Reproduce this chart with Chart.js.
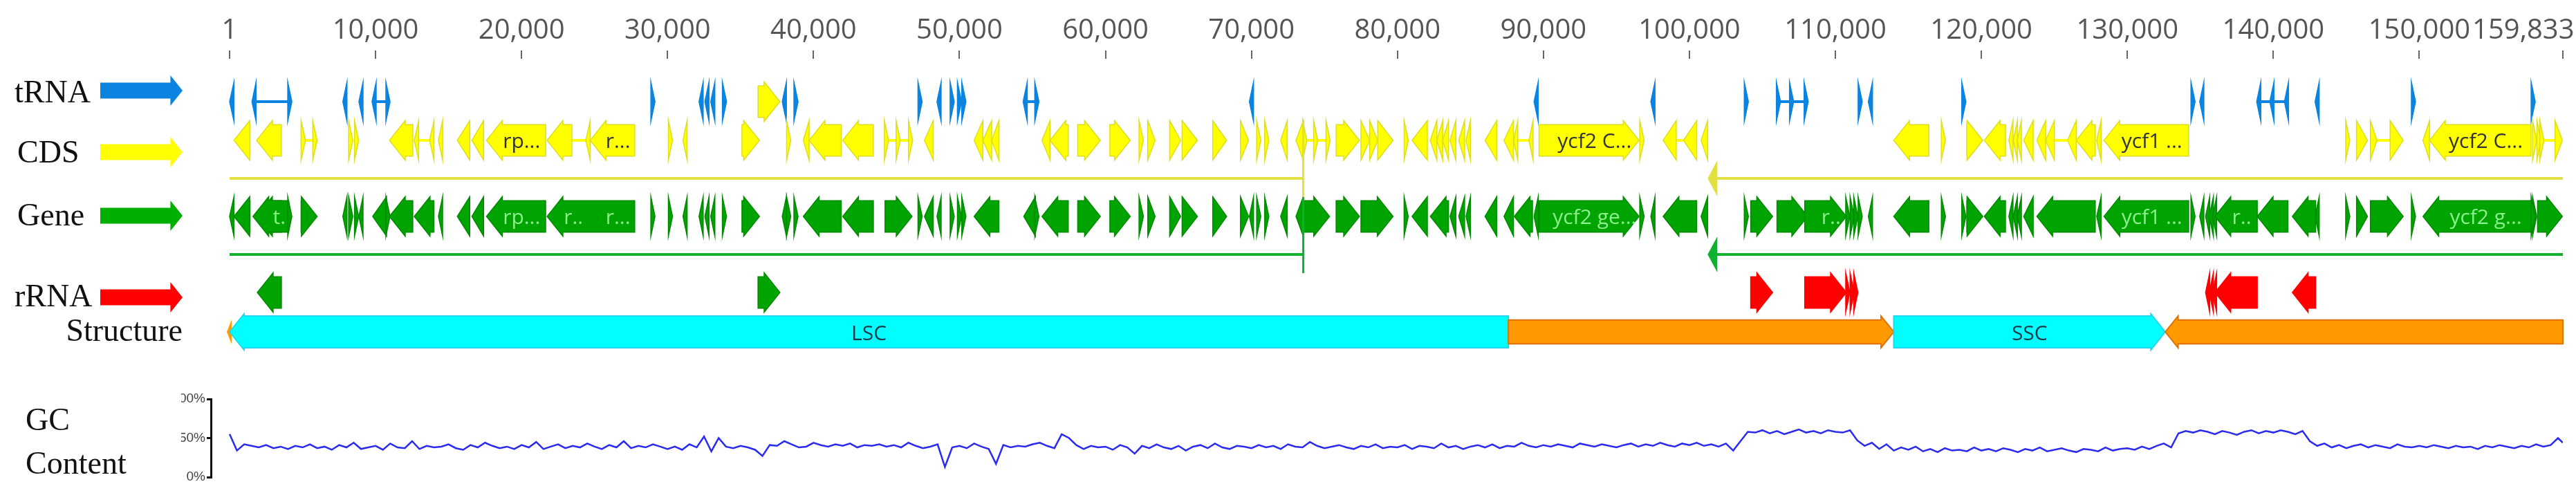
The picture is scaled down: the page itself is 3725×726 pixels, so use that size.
<!DOCTYPE html>
<html lang="en">
<head>
<meta charset="UTF-8">
<title>Genome map</title>
<script src="https://cdn.jsdelivr.net/npm/chart.js"></script>
<style>
  body { margin: 0; background: #fff; width: 3725px; height: 726px; position: relative; overflow: hidden; }
  canvas { position: absolute; left: 0; }
  #mapChart { top: 0; }
  #gcChart { top: 540px; }
  .lbl { position: absolute; font-family: "Liberation Serif", "DejaVu Serif", serif; font-size: 46px; line-height: 50px; height: 50px; color: #111; white-space: nowrap; }
</style>
</head>
<body>
<canvas id="mapChart" width="3725" height="540"></canvas>
<canvas id="gcChart" width="3725" height="186"></canvas>
<div class="lbl" style="left:21px;top:108px">tRNA</div>
<div class="lbl" style="left:25px;top:195px">CDS</div>
<div class="lbl" style="left:25px;top:286px">Gene</div>
<div class="lbl" style="left:21px;top:403px">rRNA</div>
<div class="lbl" style="right:3461px;top:453px">Structure</div>
<div class="lbl" style="left:37px;top:582px">GC</div>
<div class="lbl" style="left:37px;top:645px">Content</div>
<script>
// genome length and axis ticks
const genomeLength = 159833;
const tickValues = [1, 10000, 20000, 30000, 40000, 50000, 60000, 70000, 80000, 90000,
  100000, 110000, 120000, 130000, 140000, 150000, 159833];

// [start, end, strand, label]
const trna = [[1,300,-1],[1600,1750,-1],[4050,4200,1],[7800,8000,-1],[8900,9100,-1],[9800,10000,-1],
  [10750,10950,1],[28900,29100,1],[32200,32400,-1],[32600,32800,-1],[33000,33200,-1],[33800,34000,1],
  [37900,38100,-1],[38700,38900,1],[47200,47400,1],[48500,48700,-1],[49400,49600,1],[49900,50100,1],
  [50200,50400,1],[54400,54600,-1],[55200,55400,1],[69900,70100,-1],[89400,89600,-1],[97400,97600,-1],
  [103800,104000,1],[106000,106200,1],[106900,107100,1],[107900,108100,1],[111600,111800,1],
  [112300,112500,-1],[118700,118900,1],[134400,134600,1],[135000,135200,-1],[138900,139100,-1],
  [139800,140000,-1],[140800,141000,-1],[142900,143100,-1],[149500,149700,1],[157700,157900,1]];
const trnaIntrons = [[1750,4050],[10000,10750],[54600,55200],[106200,106900],[107100,107900],
  [139100,139800],[140000,140800]];

const cds = [[300,1400,-1],[1850,3550,-1],[4900,5200,1],[5700,6000,1],[8200,8400,1],[8600,8800,1],
  [10950,12550,-1],[12650,12950,-1],[13700,14000,-1],[14350,14550,-1],[15600,16450,-1],[16600,17400,-1],
  [17600,21650,-1,'rp...'],[21750,23450,-1],[24400,24700,-1],[24700,27750,-1,'r...'],[30100,30300,1],
  [31100,31300,-1],[35100,36300,1],[38200,38400,1],[39300,39700,-1],[39700,41900,-1],[42000,44100,-1],
  [44900,45100,1],[45700,45900,1],[46550,46750,1],[47600,48200,-1],[51000,51600,-1],[51600,52200,-1],
  [52200,52700,-1],[55650,56200,-1],[56200,57450,-1],[58100,59650,1],[60300,61700,1],[62300,62600,1],
  [62900,63400,1],[64400,65150,1],[65250,66300,1],[67350,68300,1],[69250,69800,1],[70400,70600,1],
  [70950,71150,1],[72000,72450,-1],[73050,73550,-1],[73550,73750,1],[74300,74500,1],[75150,75350,1],
  [75800,77400,1],[77500,78100,1],[78100,78650,1],[78650,79700,1],[80500,80700,1],[81000,82050,-1],
  [82250,82700,-1],[82700,83100,-1],[83100,83500,-1],[83600,84000,-1],[84200,84600,-1],[84700,85000,-1],
  [86000,86800,-1],[87300,87950,-1],[88000,88200,-1],[89050,89250,-1],[89700,96550,1,'ycf2 C...'],
  [96600,96900,1],[98200,99100,-1],[99600,100500,-1],[100800,101250,-1],[114000,116400,-1],
  [117300,117500,1],[119000,120100,1],[120200,121650,-1],[121900,122150,-1],[122200,122450,-1],
  [122500,122700,-1],[122900,123550,-1],[123800,124400,-1],[124400,125000,-1],[125900,126500,-1],
  [126500,127800,-1],[127900,128200,-1],[128400,134200,-1,'ycf1 ...'],[145000,145200,1],[145700,146450,1],
  [146650,147100,1],[148000,148900,1],[150250,150700,-1],[150700,157650,-1,'ycf2 C...'],[157800,158000,1],
  [158100,158300,1],[158300,158500,1],[159300,159800,1]];
const cdsIntrons = [[5200,5700],[12950,13700],[23450,24400],[45100,45700],[45900,46550],[73750,74300],
  [74500,75150],[88200,89050],[99100,99600],[125000,125900],[147100,148000],[158500,159300]];
const cdsInTrnaRow = [[36200,37700,1]];

const rrna = [[104200,105700,1],[107900,110750,1],[110750,110950,1],[111050,111250,1],[111300,111500,1],
  [135400,135600,-1],[135650,135850,-1],[135900,136050,-1],[136000,138900,-1],[141300,142900,-1]];
const genesInRrnaRow = [[1900,3550,-1],[36200,37700,1]];
const geneLabels = [[1850,4200,'t.'],[17600,21650,'rp...'],[21750,24600,'r..'],[24700,27750,'r...'],
  [89700,96550,'ycf2 ge...'],[107900,110750,'r..'],[128400,134200,'ycf1 ...'],[136000,138900,'r..'],
  [150700,157650,'ycf2 g...']];
// trans-spliced gene (rps12) segments
const transSplice = [[1,73550],[101250,159833]];

// structure: [start, end, strand, name, kind]
const regions = [[1,87600,-1,'LSC','sc'],[87600,114000,1,'','ir'],[114000,132600,1,'SSC','sc'],
  [132600,159833,-1,'','ir']];

// GC content, one value per 500 bp window
const gcStep = 500;
const gcContent = [
  55,34,42,40,38,41,37,39,36,40,38,42,37,39,35,41,38,44,36,38,
  40,35,43,38,37,46,36,40,38,39,42,37,35,41,38,44,40,37,39,36,
  41,38,45,36,39,42,37,40,38,43,39,36,41,38,46,37,40,38,42,39,
  36,39,35,42,38,52,33,50,39,37,40,38,35,27,41,40,46,42,38,39,
  44,41,39,42,40,43,38,41,40,42,39,41,38,44,40,37,39,42,13,38,
  40,37,43,39,36,17,41,38,40,39,42,44,40,37,55,50,41,36,40,38,
  39,35,41,38,30,40,37,42,38,36,40,34,39,41,37,43,38,36,40,39,
  37,41,38,40,36,42,39,38,45,40,37,39,41,38,36,40,38,42,37,39,
  38,41,36,40,39,37,43,38,40,36,39,41,38,42,37,40,39,44,40,38,
  41,39,42,40,38,43,41,39,42,40,38,41,43,39,42,40,44,41,39,43,
  41,44,40,42,39,43,34,46,58,57,60,56,59,55,58,61,57,59,56,60,
  58,57,60,47,40,44,36,42,34,38,35,39,33,36,32,37,34,35,33,38,
  34,36,33,37,35,32,36,34,38,33,35,37,34,32,36,35,33,38,34,36,
  37,35,39,36,40,43,38,56,59,57,60,58,55,59,57,54,58,60,56,59,
  57,60,58,55,59,46,40,43,38,41,37,40,42,38,41,39,37,42,39,38,
  40,38,41,39,37,40,38,39,36,40,38,41,39,37,40,38,42,39,41,50,44];

// track rows (pixel centres in the top chart)
const ROW = { trna: 147, cds: 203, cdsLine: 258, gene: 313, geneLine: 368, rrna: 423, struct: 480 };
const H = 57;
const C = {
  trna: '#0a84e0', cds: '#ffff00', cdsEdge: '#dede20', gene: '#00a400', geneEdge: '#008a00',
  rrna: '#ff0000', cyan: '#00ffff', cyanEdge: '#22d8e8', orange: '#ff9900', orangeEdge: '#e07000'
};

function arrowPath(ctx, x1, x2, yc, h, strand, bodyFrac) {
  let w = x2 - x1;
  if (w < 6) { const c = (x1 + x2) / 2; x1 = c - 3; x2 = c + 3; w = 6; }
  const head = Math.min(h * 0.4, w);
  const bt = yc - h * bodyFrac / 2, bb = yc + h * bodyFrac / 2, ht = yc - h / 2, hb = yc + h / 2;
  ctx.beginPath();
  if (strand > 0) {
    ctx.moveTo(x1, bt); ctx.lineTo(x2 - head, bt); ctx.lineTo(x2 - head, ht); ctx.lineTo(x2, yc);
    ctx.lineTo(x2 - head, hb); ctx.lineTo(x2 - head, bb); ctx.lineTo(x1, bb);
  } else {
    ctx.moveTo(x2, bt); ctx.lineTo(x1 + head, bt); ctx.lineTo(x1 + head, ht); ctx.lineTo(x1, yc);
    ctx.lineTo(x1 + head, hb); ctx.lineTo(x1 + head, bb); ctx.lineTo(x2, bb);
  }
  ctx.closePath();
}

function drawFeatures(ctx, xs, list, yc, fill, edge) {
  ctx.fillStyle = fill; ctx.strokeStyle = edge; ctx.lineWidth = 1.5;
  list.forEach(f => {
    arrowPath(ctx, xs.getPixelForValue(f[0]), xs.getPixelForValue(f[1]), yc, H, f[2], 0.8);
    ctx.fill(); ctx.stroke();
  });
}

function drawIntrons(ctx, xs, list, yc, color) {
  ctx.strokeStyle = color; ctx.lineWidth = 4;
  list.forEach(r => {
    ctx.beginPath(); ctx.moveTo(xs.getPixelForValue(r[0]), yc); ctx.lineTo(xs.getPixelForValue(r[1]), yc); ctx.stroke();
  });
}

function drawLabels(ctx, xs, list, yc, color, idx) {
  ctx.fillStyle = color; ctx.font = '30px "Open Sans", sans-serif';
  ctx.textAlign = 'center'; ctx.textBaseline = 'middle';
  list.forEach(f => {
    const t = f[idx];
    if (!t) return;
    ctx.fillText(t, (xs.getPixelForValue(f[0]) + xs.getPixelForValue(f[1])) / 2 + 8, yc + 2);
  });
}

// merge exons and introns into whole gene spans for the Gene track
function mergeSpans(exons, introns) {
  const items = exons.map(e => e.slice()).concat(introns.map(i => [i[0], i[1], 0]));
  items.sort((a, b) => a[0] - b[0]);
  const out = [];
  items.forEach(it => {
    const last = out[out.length - 1];
    if (last && it[0] <= last[1] + 1 && (it[2] === 0 || last[2] === 0 || it[2] === last[2])) {
      last[1] = Math.max(last[1], it[1]);
      if (last[2] === 0) last[2] = it[2];
    } else out.push(it.slice());
  });
  return out.filter(o => o[2] !== 0);
}

const legendArrows = [[ROW.trna - 16, C.trna], [ROW.cds + 17, C.cds], [ROW.gene - 1, '#00b000'], [430, '#ff0000']];

const mapPlugin = {
  id: 'mapPlugin',
  afterDraw(chart) {
    const ctx = chart.ctx, xs = chart.scales.x;
    ctx.save();
    // legend arrows
    legendArrows.forEach(a => {
      ctx.fillStyle = a[1];
      arrowPath(ctx, 145, 264, a[0], 44, 1, 0.52);
      ctx.fill();
    });
    // tRNA row
    drawIntrons(ctx, xs, trnaIntrons, ROW.trna, C.trna);
    drawFeatures(ctx, xs, trna, ROW.trna, C.trna, C.trna);
    drawFeatures(ctx, xs, cdsInTrnaRow, ROW.trna, C.cds, C.cdsEdge);
    // CDS row
    drawIntrons(ctx, xs, cdsIntrons, ROW.cds, C.cds);
    drawFeatures(ctx, xs, cds, ROW.cds, C.cds, C.cdsEdge);
    drawLabels(ctx, xs, cds, ROW.cds, '#333', 3);
    // Gene row
    const genes = mergeSpans(cds, cdsIntrons).concat(mergeSpans(trna, trnaIntrons), rrna);
    drawFeatures(ctx, xs, genes, ROW.gene, C.gene, C.geneEdge);
    drawLabels(ctx, xs, geneLabels, ROW.gene, '#8cf08c', 2);
    // trans-spliced lines
    [[ROW.cdsLine, '#e0e040', ROW.cds - 29, ROW.gene - 28], [ROW.geneLine, '#10b030', ROW.gene - 28, ROW.rrna - 28]].forEach(s => {
      ctx.strokeStyle = s[1]; ctx.lineWidth = 4;
      const a = transSplice[0], b = transSplice[1];
      ctx.beginPath();
      ctx.moveTo(xs.getPixelForValue(a[0]), s[0]); ctx.lineTo(xs.getPixelForValue(a[1]), s[0]); ctx.stroke();
      ctx.lineWidth = 3; ctx.beginPath();
      ctx.moveTo(xs.getPixelForValue(a[1]), s[2]); ctx.lineTo(xs.getPixelForValue(a[1]), s[3]); ctx.stroke();
      ctx.lineWidth = 4; ctx.beginPath();
      ctx.moveTo(xs.getPixelForValue(b[0]) + 10, s[0]); ctx.lineTo(xs.getPixelForValue(b[1]), s[0]); ctx.stroke();
      ctx.fillStyle = s[1];
      arrowPath(ctx, xs.getPixelForValue(b[0]), xs.getPixelForValue(b[0]) + 14, s[0], 52, -1, 0.1);
      ctx.fill();
    });
    // rRNA row
    drawFeatures(ctx, xs, rrna, ROW.rrna, C.rrna, C.rrna);
    drawFeatures(ctx, xs, genesInRrnaRow, ROW.rrna, C.gene, C.geneEdge);
    // structure
    ctx.fillStyle = C.orange;
    arrowPath(ctx, xs.getPixelForValue(1) - 4, xs.getPixelForValue(1) + 3, ROW.struct, 36, -1, 1);
    ctx.fill();
    regions.forEach(r => {
      const x1 = xs.getPixelForValue(r[0]), x2 = xs.getPixelForValue(r[1]);
      const isIR = r[4] === 'ir';
      ctx.fillStyle = isIR ? C.orange : C.cyan;
      ctx.strokeStyle = isIR ? C.orangeEdge : C.cyanEdge;
      ctx.lineWidth = 2;
      arrowPath(ctx, x1, x2, ROW.struct, isIR ? 46 : 52, r[2], isIR ? 0.75 : 0.88);
      ctx.fill(); ctx.stroke();
      if (r[3]) {
        ctx.fillStyle = '#1a3a4a'; ctx.font = '30px "Open Sans", sans-serif';
        ctx.textAlign = 'center'; ctx.textBaseline = 'middle';
        ctx.fillText(r[3], (x1 + x2) / 2, ROW.struct + 3);
      }
    });
    ctx.restore();
  }
};

new Chart(document.getElementById('mapChart'), {
  type: 'line',
  data: { datasets: [] },
  options: {
    responsive: false, animation: false, devicePixelRatio: 1,
    layout: { padding: { left: 332, right: 19, top: 0, bottom: 0 } },
    plugins: { legend: { display: false }, tooltip: { enabled: false } },
    scales: {
      x: {
        type: 'linear', position: 'top', min: 1, max: genomeLength,
        afterBuildTicks: s => { s.ticks = tickValues.map(v => ({ value: v })); },
        afterFit: s => { s.height = 85; s.paddingLeft = 0; s.paddingRight = 0; },
        ticks: { autoSkip: false, maxRotation: 0, color: '#555', font: { family: '"Open Sans", sans-serif', size: 40 },
          padding: 4,
          // last label is pushed left so it stays in view, as in the original
          callback: v => v === genomeLength ? v.toLocaleString('en-US') + '\u2007\u2007\u2007\u2007\u2007' : v.toLocaleString('en-US') },
        grid: { drawOnChartArea: false, tickLength: 12, color: '#666', lineWidth: 2 },
        border: { display: false }
      },
      y: { type: 'linear', min: 85, max: 540, reverse: true, display: false }
    }
  },
  plugins: [mapPlugin]
});

const gcPoints = gcContent.map((v, i) => ({ x: Math.min(i * gcStep, genomeLength), y: v }));

new Chart(document.getElementById('gcChart'), {
  type: 'line',
  data: { datasets: [{ data: gcPoints, borderColor: '#2a2af0', borderWidth: 2.5, pointRadius: 0, tension: 0 }] },
  options: {
    responsive: false, animation: false, devicePixelRatio: 1,
    layout: { padding: { left: 262, right: 19, top: 37, bottom: 36 } },
    plugins: { legend: { display: false }, tooltip: { enabled: false } },
    scales: {
      x: { type: 'linear', min: -1280, max: genomeLength, display: false },
      y: {
        min: 0, max: 100,
        afterBuildTicks: s => { s.ticks = [0, 50, 100].map(v => ({ value: v })); },
        afterFit: s => { s.width = 43; },
        ticks: { color: '#444', font: { family: '"Liberation Sans Narrow", "Liberation Sans", sans-serif', size: 19 },
          padding: 2, callback: v => v + '%' },
        grid: { drawOnChartArea: false, tickLength: 6, color: '#111', lineWidth: 3 },
        border: { color: '#111', width: 3 }
      }
    }
  }
});
</script>
</body>
</html>
